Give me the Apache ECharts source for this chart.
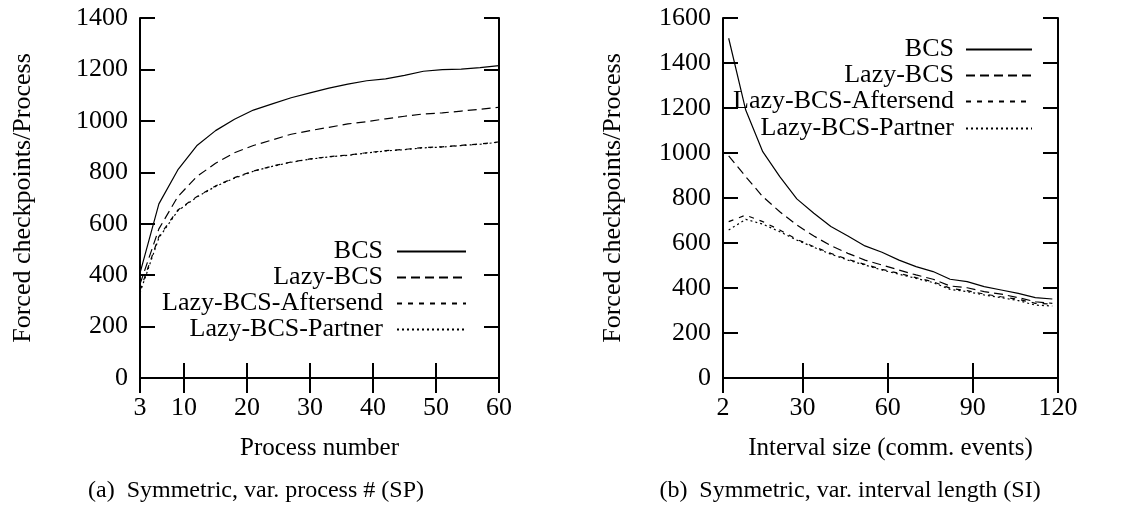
<!DOCTYPE html>
<html>
<head>
<meta charset="utf-8">
<script src="https://cdn.jsdelivr.net/npm/echarts@6/dist/echarts.min.js"></script>
<style>
html,body{margin:0;padding:0;background:#fff;}
#chart{width:1131px;height:507px;}
</style>
</head>
<body>
<div id="chart"></div>
<script>
// ---- data: left panel (SP) ----
const seriesNames = ['BCS', 'Lazy-BCS', 'Lazy-BCS-Aftersend', 'Lazy-BCS-Partner'];
const xProc = [3, 6, 9, 12, 15, 18, 21, 24, 27, 30, 33, 36, 39, 42, 45, 48, 51, 54, 57, 60];
const bcsSP = [408, 677, 809, 903, 962, 1006, 1042, 1066, 1090, 1109, 1127, 1143, 1156, 1163, 1177, 1193, 1199, 1201, 1207, 1215];
const lazySP = [365, 580, 705, 783, 835, 876, 904, 926, 948, 962, 975, 988, 997, 1008, 1018, 1027, 1031, 1038, 1045, 1053];
const afterSP = [340, 550, 653, 705, 747, 779, 805, 824, 840, 852, 861, 867, 876, 884, 889, 896, 899, 905, 910, 918];
const partnerSP = [332, 545, 650, 703, 745, 777, 804, 823, 839, 851, 860, 866, 875, 883, 888, 895, 898, 904, 909, 917];
const xTicksSP = [3, 10, 20, 30, 40, 50, 60];

// ---- data: right panel (SI) ----
const xInt = [4, 10, 16, 22, 28, 34, 40, 46, 52, 58, 64, 70, 76, 82, 88, 94, 100, 106, 112, 118];
const bcsSI = [1510, 1191, 1006, 895, 796, 732, 673, 631, 587, 559, 524, 495, 473, 439, 428, 406, 391, 376, 357, 351];
const lazySI = [987, 895, 806, 739, 680, 631, 588, 554, 524, 502, 480, 458, 439, 409, 401, 384, 373, 357, 339, 332];
const afterSI = [695, 724, 695, 658, 616, 584, 554, 527, 505, 483, 465, 446, 428, 399, 388, 373, 361, 350, 332, 329];
const partnerSI = [658, 705, 684, 650, 613, 581, 550, 524, 502, 480, 461, 443, 424, 394, 384, 369, 357, 344, 324, 320];
const xTicksSI = [2, 30, 60, 90, 120];

const yTicksSP = [0, 200, 400, 600, 800, 1000, 1200, 1400];
const yTicksSI = [0, 200, 400, 600, 800, 1000, 1200, 1400, 1600];

const xTitleSP = 'Process number';
const xTitleSI = 'Interval size (comm. events)';
const yTitle = 'Forced checkpoints/Process';
const captionSP = '(a)  Symmetric, var. process # (SP)';
const captionSI = '(b)  Symmetric, var. interval length (SI)';

// ---- styling ----
const FONT = '"Liberation Serif", "Times New Roman", serif';
const dashes = ['solid', [9, 5], [5, 6], [2, 3]];

function pairs(xs, ys) { return xs.map((x, i) => [x, ys[i]]); }

const frameLine = { show: true, lineStyle: { color: '#000', width: 2 } };
function tickCfg(vals) {
  return { show: true, inside: true, length: 15, customValues: vals, lineStyle: { color: '#000', width: 2 } };
}
function xAx(grid, min, max, ticks, pos, showLabel, name) {
  const a = {
    gridIndex: grid, type: 'value', min: min, max: max, position: pos,
    axisLine: frameLine, axisTick: tickCfg(ticks), splitLine: { show: false },
    axisLabel: showLabel ? { show: true, customValues: ticks, formatter: v => String(v), color: '#000', fontSize: 26, fontFamily: FONT, margin: 17 } : { show: false }
  };
  if (name) {
    a.name = name; a.nameLocation = 'middle'; a.nameGap = 58;
    a.nameTextStyle = { color: '#000', fontSize: 25, fontFamily: FONT };
  }
  return a;
}
function yAx(grid, max, ticks, pos, showLabel, name, gap) {
  const a = {
    gridIndex: grid, type: 'value', min: 0, max: max, interval: 200, position: pos,
    axisLine: frameLine, axisTick: tickCfg(ticks), splitLine: { show: false },
    axisLabel: showLabel ? { show: true, customValues: ticks, formatter: v => String(v), color: '#000', fontSize: 26, fontFamily: FONT, margin: 12 } : { show: false }
  };
  if (name) {
    a.name = name; a.nameLocation = 'middle'; a.nameGap = gap; a.nameRotate = 90;
    a.nameTextStyle = { color: '#000', fontSize: 26, fontFamily: FONT };
  }
  return a;
}

const spData = [bcsSP, lazySP, afterSP, partnerSP];
const siData = [bcsSI, lazySI, afterSI, partnerSI];
const series = [];
seriesNames.forEach((n, i) => {
  series.push({
    name: n, type: 'line', xAxisIndex: 0, yAxisIndex: 0, symbol: 'none', showSymbol: false, animation: false,
    data: pairs(xProc, spData[i]),
    lineStyle: { color: '#000', width: 1.2, type: dashes[i] }, itemStyle: { color: '#000' }
  });
});
seriesNames.forEach((n, i) => {
  series.push({
    name: n, type: 'line', xAxisIndex: 2, yAxisIndex: 2, symbol: 'none', showSymbol: false, animation: false,
    data: pairs(xInt, siData[i]),
    lineStyle: { color: '#000', width: 1.2, type: dashes[i] }, itemStyle: { color: '#000' }
  });
});

const legends = [];
const legTopSP = [238, 264, 290, 316];
const legTopSI = [36, 62, 88, 115];
const legItemStyle = { opacity: 0, borderWidth: 0 };
seriesNames.forEach((n, i) => {
  legends.push({
    data: [n], orient: 'horizontal', align: 'right', right: 664, top: legTopSP[i], padding: 0,
    itemWidth: 69, itemHeight: 14, selectedMode: false, itemStyle: legItemStyle,
    textStyle: { color: '#000', fontSize: 26, fontFamily: FONT, lineHeight: 27, padding: [0, 9, 0, 0] }
  });
  legends.push({
    data: [n], orient: 'horizontal', align: 'right', right: 98, top: legTopSI[i], padding: 0,
    itemWidth: 66, itemHeight: 14, selectedMode: false, itemStyle: legItemStyle,
    textStyle: { color: '#000', fontSize: 26, fontFamily: FONT, lineHeight: 27, padding: [0, 7, 0, 0] }
  });
});

const chart = echarts.init(document.getElementById('chart'), null, { renderer: 'canvas' });
chart.setOption({
  animation: false,
  backgroundColor: '#fff',
  grid: [
    { left: 140, right: 632, top: 18, bottom: 129, containLabel: false, outerBoundsMode: 'none' },
    { left: 723, right: 73, top: 18, bottom: 129, containLabel: false, outerBoundsMode: 'none' }
  ],
  xAxis: [
    xAx(0, 3, 60, xTicksSP, 'bottom', true, xTitleSP),
    xAx(0, 3, 60, xTicksSP, 'top', false, null),
    xAx(1, 2, 120, xTicksSI, 'bottom', true, xTitleSI),
    xAx(1, 2, 120, xTicksSI, 'top', false, null)
  ],
  yAxis: [
    yAx(0, 1400, yTicksSP, 'left', true, yTitle, 104),
    yAx(0, 1400, yTicksSP, 'right', false, null, 0),
    yAx(1, 1600, yTicksSI, 'left', true, yTitle, 97),
    yAx(1, 1600, yTicksSI, 'right', false, null, 0)
  ],
  legend: legends,
  graphic: [
    { type: 'text', x: 256, y: 491, style: { text: captionSP, font: '24px ' + FONT, fill: '#000', align: 'center', verticalAlign: 'middle' } },
    { type: 'text', x: 850, y: 491, style: { text: captionSI, font: '24px ' + FONT, fill: '#000', align: 'center', verticalAlign: 'middle' } }
  ],
  series: series
});
</script>
</body>
</html>
